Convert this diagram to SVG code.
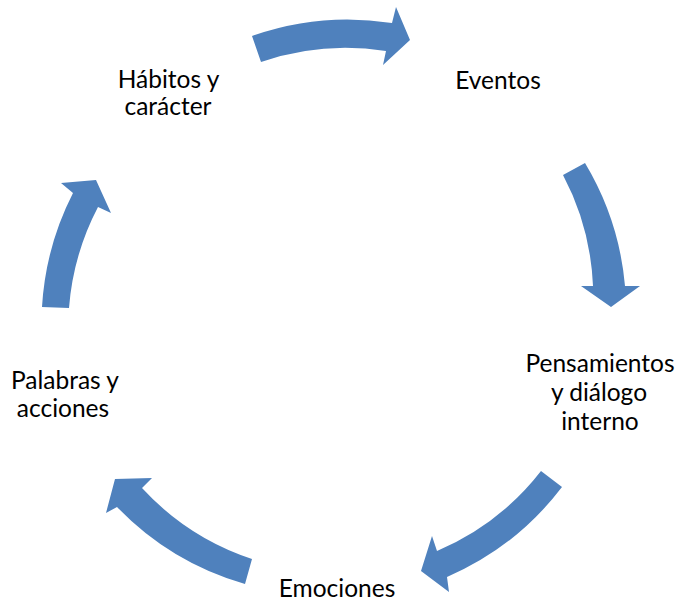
<svg xmlns="http://www.w3.org/2000/svg" width="678" height="601" viewBox="0 0 678 601">
<style>
.arrow{fill:#4F81BD;stroke:none}
.lbl{font-family:Lato,"Noto Sans","Liberation Sans",sans-serif;font-size:24.5px;fill:#000;text-anchor:middle}
</style>
<rect width="678" height="601" fill="#fff"/>
<g id="connectors">
<path class="arrow" d="M252,36 A288,288 0 0 1 392,23 L396,7 L410,40 L383,65 L386,51 A261,261 0 0 0 261,62 Z"/>
<path class="arrow" d="M585,163 A288,288 0 0 1 625,286 L640,286 L611,307 L581,286 L593,286 A261,261 0 0 0 563,175 Z"/>
<path class="arrow" d="M562,487 A288,288 0 0 1 447,577 L449,592 L421,571 L432,536 L437,551 A261,261 0 0 0 541,471 Z"/>
<path class="arrow" d="M245,584 A288,288 0 0 1 117,507 L106,513 L115,479 L152,478 L142,488 A261,261 0 0 0 252,559 Z"/>
<path class="arrow" d="M42,307 A288,288 0 0 1 73,193 L61,183 L96,180 L111,213 L98,207 A261,261 0 0 0 69,308 Z"/>
</g>
<g id="node-eventos"><text class="lbl" x="498" y="89">Eventos</text></g>
<g id="node-pensamientos"><text class="lbl" x="600" y="372">Pensamientos</text><text class="lbl" x="599" y="401">y diálogo</text><text class="lbl" x="600" y="430">interno</text></g>
<g id="node-emociones"><text class="lbl" x="337" y="597">Emociones</text></g>
<g id="node-palabras"><text class="lbl" x="65" y="389">Palabras y</text><text class="lbl" x="63" y="417">acciones</text></g>
<g id="node-habitos"><text class="lbl" x="168.5" y="88">Hábitos y</text><text class="lbl" x="168" y="115">carácter</text></g>
</svg>
